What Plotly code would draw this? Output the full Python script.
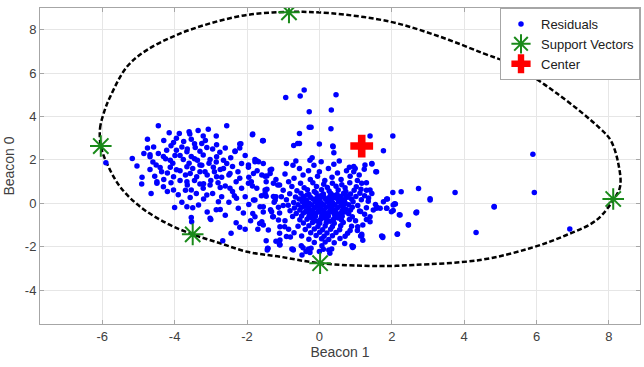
import plotly.graph_objects as go

# ---------------- data ----------------
# left cluster of residuals
left_x = [-4.45,-2.56,-3.07,-3.87,-3.58,-3.21,-1.85,-4.75,-3.54,-1.55,-4.03,-3.25,-2.84,-2.2,-4.58,-3.8,-3.43,-3.11,
          -4.22,-3.66,-2.33,-4.31,-3.99,-3.54,-3.21,-2.84,-5.17,-4.68,-4.12,-3.76,-3.37,-3.02,-2.65,-2.56,-2.15,-1.73,
          -5.04,-4.51,-4.12,-3.66,-3.3,-2.93,-2.74,-1.96,-1.55,-4.68,-4.36,-3.85,-3.57,-3.16,-2.47,-1.82,-4.03,-3.39,
          -2.84,-2.2,-1.45,-4.91,-4.49,-4.31,-3.66,-3.3,-3.02,-2.74,-4.03,-3.54,-3.21,-2.47,-1.96,-1.73,-1.5,-3.57,
          -3.11,-2.79,-2.29,-1.82,-4.0,-3.66,-3.34,-2.74,-2.24,-1.55,-3.02,-3.54,-3.53,-2.67,-2.44,-3.0,-1.43,-1.1,
          -4.68,-4.49,-5.9,
          -4.3,-4.1,-3.95,-3.75,-3.65,-3.45,-3.3,-3.15,-2.95,-2.75,-2.6,-2.45,-4.45,-4.25,-4.05,-3.85,-3.6,-3.45,-3.25,
          -3.05,-2.85,-2.65,-2.4,-2.25,-4.6,-4.4,-4.2,-3.95,-3.7,-3.5,-3.3,-3.1,-2.9,-2.7,-2.5,-2.3,-4.55,-4.3,-4.1,
          -3.85,-3.65,-3.45,-3.2,-3.0,-2.8,-2.6,-2.4,-2.15,-4.2,-3.9,-3.7,-3.4,-3.2,-2.95,-2.7,-2.5,-2.35,-3.8,-3.5,
          -3.1,-2.85,-2.6,-2.3,-2.05,-4.75,-4.85,-4.9,-4.65,-3.95,-3.6,-3.35,-4.15,-2.85,-2.2,-2.05]
left_y = [3.58,3.57,3.41,3.22,3.19,3.1,3.16,2.95,2.95,2.88,2.8,2.76,2.7,2.73,2.6,2.6,2.57,2.57,
          2.45,2.38,2.39,2.16,2.2,2.16,2.23,2.15,2.07,2.15,1.99,2.02,1.99,2.02,1.99,1.84,1.84,1.96,
          1.72,1.77,1.66,1.69,1.77,1.66,1.56,1.77,1.84,1.56,1.46,1.5,1.38,1.46,1.38,1.38,1.23,1.23,
          1.23,1.15,1.26,0.89,0.99,0.76,0.99,0.89,0.84,0.73,0.61,0.61,0.69,0.69,0.92,0.69,0.61,0.27,
          0.38,0.07,0.23,0.15,-0.19,-0.16,-0.08,-0.28,-0.23,-0.16,-0.69,-0.65,-0.85,-1.72,-1.38,-0.74,-2.07,-1.88,
          2.24,0.92,1.87,
          2.9,2.65,2.45,2.85,2.5,2.75,2.4,2.9,2.5,2.35,2.55,2.1,2.3,2.05,1.85,2.2,1.85,2.05,1.75,
          1.85,1.9,1.6,1.7,1.45,1.9,1.65,1.4,1.55,1.3,1.6,1.45,1.3,1.45,1.2,1.3,1.0,1.25,1.1,0.95,
          1.05,0.85,1.05,0.9,1.05,0.95,0.8,0.55,0.7,0.55,0.4,0.6,0.45,0.2,0.45,0.3,0.05,0.35,0.05,-0.2,
          -0.4,-0.3,-0.55,-0.9,-1.2,2.55,2.3,1.2,0.45,3.0,3.3,3.35,3.25,3.1,2.55,2.2]

# points between the two clusters
mid_x = [-1.27,-1.13,-1.27,-1.36,-1.09,-1.84,-1.56,-1.78,-1.96,-1.72,-1.32,-0.91,-0.73,-1.88,-1.47,-1.1,-1.47,-1.2,
         -1.78,-1.78,-1.65,-1.84,-1.29,-0.96,-1.1,-0.91,-1.47,-1.1,-0.73,-0.5,-0.48,-0.37,0.0,-0.23,0.26,
         -1.68,-1.36,-1.59,-1.27,-1.5,-1.22,-1.64,-1.32,-1.59,-1.13,-1.41,-1.09,-1.42,-1.09,-1.55,-1.44,-0.72,-0.26,
         -1.95,-1.85,-2.05,-1.95,-2.1,-1.9,-2.2,-1.7,-1.55,-1.6,-1.45,-1.25,-1.35,-1.2,-1.5,-2.17,-2.33,-1.57]
mid_y = [0.31,-0.18,-0.62,1.38,-1.08,3.19,2.89,1.92,1.66,1.5,1.57,1.84,1.76,1.0,1.0,0.85,0.33,0.3,
         0.15,-0.62,-0.93,-0.47,-0.62,-1.08,-1.38,-1.53,-1.72,-1.9,-2.12,-1.96,-2.38,-2.22,-2.22,-2.07,-2.15,
         1.92,1.53,1.3,0.92,0.46,0.15,-0.16,-0.39,-0.85,-0.77,-1.23,-1.69,-2.08,-1.92,-1.0,-2.15,-2.15,-2.27,
         1.2,0.8,0.3,-0.05,-0.45,-0.8,-1.1,-1.2,-0.4,0.35,0.65,0.05,-0.3,1.1,1.25,2.75,2.41,2.88]

# upper outliers above the main cluster
upper_x = [-0.93,-0.53,-0.42,0.46,-0.28,0.33,-0.28,-0.23,0.32,-0.55,0.0,-0.71,-0.55,0.38,0.4,1.4,2.03,1.77,
           -0.26,0.05,1.45,0.83,1.24,1.56,0.37,-0.6,-1.78]
upper_y = [4.88,4.94,5.22,5.0,4.22,4.3,3.5,3.5,3.44,3.22,2.73,2.67,2.76,2.61,2.33,3.1,3.1,2.42,
           1.99,1.92,1.81,1.66,1.57,1.46,2.64,2.76,2.02]

# dense main cluster around the origin
core_x = [-0.52,-0.18,0.12,0.36,0.62,0.84,-0.76,-0.42,-0.08,0.22,0.46,0.71,1.02,
          -0.62,-0.33,-0.14,0.06,0.27,0.52,0.73,0.96,-0.82,-0.51,-0.29,-0.09,0.11,0.31,0.49,0.67,0.86,1.12,
          -0.66,-0.44,-0.24,-0.04,0.13,0.29,0.43,0.59,0.79,1.01,-0.91,-0.56,-0.36,-0.17,0.01,0.17,0.34,0.51,0.69,0.89,1.16,
          -0.71,-0.47,-0.29,-0.11,0.05,0.21,0.37,0.53,0.71,0.93,-0.86,-0.59,-0.41,-0.21,-0.05,0.11,0.27,0.43,0.61,0.81,1.06,
          -0.69,-0.49,-0.31,-0.13,0.03,0.19,0.35,0.51,0.67,0.91,-0.81,-0.54,-0.37,-0.19,-0.03,0.13,0.29,0.45,0.63,0.86,1.11,
          -0.64,-0.44,-0.27,-0.09,0.07,0.23,0.41,0.59,0.81,-0.74,-0.49,-0.29,-0.11,0.06,0.25,0.43,0.63,0.91,
          -0.54,-0.34,-0.14,0.03,0.21,0.39,0.61,0.83,-0.44,-0.19,0.01,0.19,0.41,0.66,
          -0.59,-0.29,-0.04,0.16,0.36,0.59,0.89,-0.39,-0.14,0.09,0.31,0.56,-0.24,0.01,0.21,0.46,
          -0.49,-0.09,0.13,0.36,0.71,-0.29,0.06,0.26,-0.14,0.16,0.41,
          -0.34,0.04,0.38,0.73,-0.46,-0.08,0.26,0.6,-0.38,-0.03,0.29,0.62,
          -0.32,0.03,0.35,0.7,-0.4,-0.05,0.27,0.6,-0.28,0.05,0.37,0.74,
          -0.36,-0.01,0.32,0.7,-0.19,0.15,0.51,-0.21,0.14,0.52,-0.06,0.3,
          -0.7,-0.45,-0.25,-0.05,0.15,0.35,0.6,0.85,1.05,-0.3,0.0,0.25,0.5,0.75,-0.55,-0.15,0.4,0.95,1.1,
          -0.85,1.3,1.3,1.25,1.35,1.3,1.25,1.4,1.2,1.05,-1.0,-1.05,-1.0,-1.1,-0.95,-0.85,-0.7,0.85,1.0,
          -0.95,-1.15,1.45,1.55,-0.8,1.2,0.95,-0.65,1.15,-0.2,0.55,-1.2,0.7,-0.45]
core_y = [0.92,0.95,0.88,0.93,0.86,0.95,0.77,0.72,0.78,0.73,0.79,0.72,0.76,
          0.58,0.62,0.55,0.63,0.57,0.61,0.55,0.6,0.44,0.47,0.41,0.48,0.43,0.47,0.41,0.46,0.43,0.47,
          0.29,0.32,0.27,0.33,0.28,0.32,0.27,0.31,0.28,0.32,0.17,0.2,0.15,0.19,0.16,0.2,0.15,0.19,0.16,0.2,0.17,
          0.04,0.07,0.02,0.06,0.03,0.07,0.02,0.06,0.03,0.07,-0.09,-0.06,-0.1,-0.07,-0.1,-0.06,-0.1,-0.06,-0.1,-0.07,-0.1,
          -0.21,-0.18,-0.22,-0.19,-0.22,-0.18,-0.22,-0.19,-0.22,-0.18,-0.34,-0.31,-0.35,-0.32,-0.35,-0.31,-0.35,-0.32,-0.35,-0.31,-0.35,
          -0.47,-0.44,-0.48,-0.45,-0.48,-0.44,-0.48,-0.45,-0.48,-0.61,-0.58,-0.62,-0.59,-0.62,-0.58,-0.62,-0.59,-0.62,
          -0.76,-0.73,-0.77,-0.74,-0.77,-0.73,-0.77,-0.74,-0.91,-0.88,-0.92,-0.89,-0.92,-0.88,
          -1.06,-1.03,-1.07,-1.04,-1.07,-1.03,-1.06,-1.21,-1.18,-1.22,-1.19,-1.22,-1.36,-1.33,-1.37,-1.34,
          -1.51,-1.48,-1.52,-1.49,-1.52,-1.66,-1.63,-1.67,-1.81,-1.78,-1.82,
          0.38,0.35,0.37,0.36,0.23,0.22,0.23,0.25,0.1,0.11,0.1,0.12,
          -0.01,-0.01,0.0,-0.01,-0.13,-0.13,-0.13,-0.12,-0.26,-0.26,-0.28,-0.28,
          -0.39,-0.39,-0.39,-0.4,-0.52,-0.52,-0.52,-0.68,-0.68,-0.68,-0.83,-0.83,
          1.15,1.3,1.1,1.25,1.05,1.2,1.1,1.25,1.05,1.5,1.45,1.6,1.4,1.5,1.6,1.75,1.8,1.45,1.3,
          1.0,0.95,0.6,0.35,0.1,-0.2,-0.5,-0.85,-1.0,-1.25,0.6,0.3,-0.1,-0.45,-0.8,-1.2,-1.35,-1.25,-0.8,
          1.35,0.85,0.45,-0.05,-1.55,-1.7,1.7,1.95,0.65,2.1,1.95,-1.75,-1.85,-2.05]

# points to the right of the main cluster
right_x = [2.03,2.26,2.74,1.88,1.59,2.1,2.21,2.68,2.46,2.16,1.75,1.14,0.94,1.36,1.14,1.3,1.06,
           1.26,1.45,1.58,0.99,1.17,1.4,1.77,1.49,1.86,1.99,1.72,1.17,0.9,0.34,0.07,-0.3,-0.76,
           0.11,0.29,0.92,1.17,0.57,0.78,1.4,1.58,1.86,2.04,2.23,2.67,2.46,1.75,2.15,4.33,4.83,6.92,3.06,
           1.86,3.06,3.75,4.83,5.9,5.94,2.08,2.04,2.69,1.68]
right_y = [0.5,0.53,0.68,0.2,-0.18,-0.03,-0.53,-0.43,-0.99,-1.41,-1.53,-1.5,-1.99,0.25,-0.38,-0.74,-1.08,
           1.77,1.84,1.46,1.61,0.92,0.61,0.07,-0.31,-0.23,-0.39,-1.5,-1.42,-1.95,-2.1,-1.95,-2.1,-2.1,
           -2.12,-2.3,-2.03,-1.51,-1.62,-1.38,-0.62,-0.23,-0.23,-0.08,-0.54,-0.43,-1.0,-1.57,-1.43,-1.34,-0.15,-1.18,0.15,
           0.2,0.21,0.5,-0.17,2.26,0.5,-0.02,-0.33,-0.4,-0.23]

# support vectors and center
sv_x = [-6.04, -3.5, -0.84, 0.02, 8.12]
sv_y = [2.64, -1.43, 8.8, -2.76, 0.2]
center_x = [1.17]
center_y = [2.64]

# decision boundary
bound_x = [-6.04,-6.06,-5.95,-5.78,-5.32,-4.77,-3.94,-3.02,-2.0,-0.84,0.3,1.95,3.33,4.53,5.36,6.56,7.75,8.05,
           8.26,8.31,8.12,7.66,6.83,5.82,4.44,2.6,1.68,0.02,-1.09,-2.0,-2.74,-3.5,-4.22,-4.95,-5.51,-5.87,-6.04]
bound_y = [2.64,3.46,4.2,4.91,6.29,7.06,7.76,8.29,8.68,8.82,8.76,8.37,7.68,6.91,6.37,5.07,3.46,2.9,
           1.84,0.77,0.15,-0.77,-1.46,-2.07,-2.61,-2.84,-2.89,-2.76,-2.46,-2.23,-1.84,-1.43,-0.92,-0.16,0.77,1.84,2.64]

x_ticks = [-6, -4, -2, 0, 2, 4, 6, 8]
y_ticks = [-4, -2, 0, 2, 4, 6, 8]
x_range = [-7.72, 8.86]
y_range = [-5.56, 9.0]

res_x = left_x + mid_x + upper_x + core_x + right_x
res_y = left_y + mid_y + upper_y + core_y + right_y

FONT = "Liberation Sans, Arial, sans-serif"

fig = go.Figure()
fig.add_trace(go.Scatter(x=bound_x, y=bound_y, mode="lines", line_shape="spline",
                         line=dict(color="black", width=2.5, dash="5px,2.5px"),
                         showlegend=False, hoverinfo="skip"))
fig.add_trace(go.Scatter(x=res_x, y=res_y, mode="markers", name="Residuals",
                         marker=dict(color="#0000ff", size=5.5, line=dict(width=0))))
fig.add_trace(go.Scatter(x=sv_x, y=sv_y, mode="markers", name="Support Vectors",
                         marker=dict(symbol="asterisk-open", size=18, color="#1a8a1a",
                                     line=dict(color="#1a8a1a", width=2))))
fig.add_trace(go.Scatter(x=center_x, y=center_y, mode="markers", name="Center",
                         marker=dict(symbol="cross", size=19, color="#ff0000", line=dict(width=0))))

axis_common = dict(showgrid=True, gridcolor="#e6e6e6", gridwidth=1, zeroline=False,
                   showline=True, linecolor="#a6a6a6", linewidth=1, mirror="ticks",
                   ticks="inside", ticklen=4, tickcolor="#a6a6a6", automargin=False,
                   tickfont=dict(family=FONT, size=13, color="#404040"))

fig.update_xaxes(range=x_range, tickvals=x_ticks, ticktext=[str(v) for v in x_ticks],
                 title=dict(text="Beacon 1", font=dict(family=FONT, size=14, color="#404040"), standoff=2),
                 **axis_common)
fig.update_yaxes(range=y_range, tickvals=y_ticks, ticktext=[str(v) for v in y_ticks],
                 title=dict(text="Beacon 0", font=dict(family=FONT, size=14, color="#404040"), standoff=6),
                 **axis_common)

fig.update_layout(width=644, height=367, margin=dict(l=40, r=4, t=8, b=43, autoexpand=False),
                  plot_bgcolor="white", paper_bgcolor="white",
                  font=dict(family=FONT, size=13, color="#404040"),
                  legend=dict(x=1, y=1, xanchor="right", yanchor="top", bgcolor="white",
                              bordercolor="#a6a6a6", borderwidth=1,
                              font=dict(family=FONT, size=13, color="#202020"),
                              tracegroupgap=0, itemwidth=30))

fig.write_html("out.html", config={"displayModeBar": False},
               post_script="document.body.style.margin='0px';")
